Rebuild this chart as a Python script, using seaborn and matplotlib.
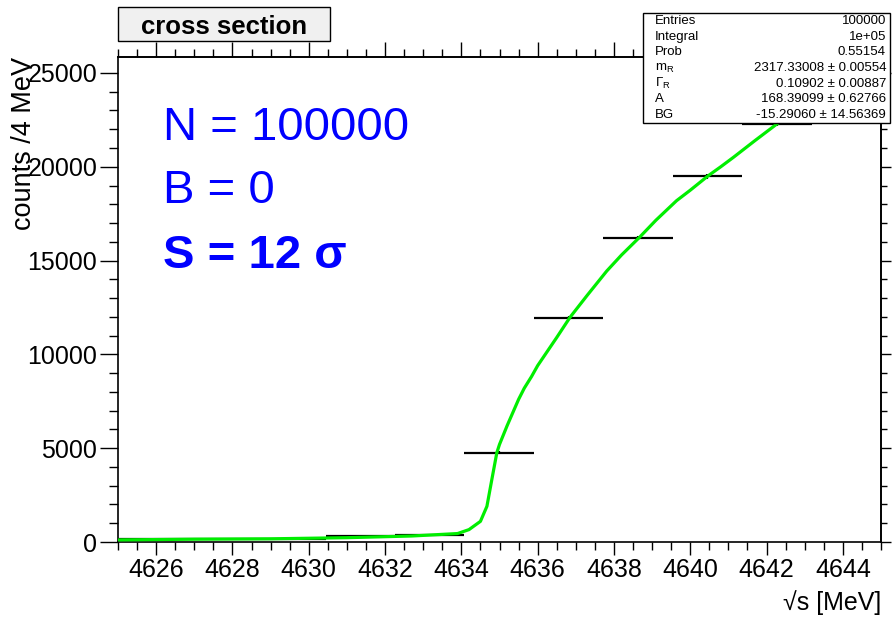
import matplotlib
matplotlib.use("Agg")
import matplotlib.pyplot as plt
from matplotlib.patches import Rectangle
from matplotlib.ticker import MultipleLocator
import pandas as pd
import seaborn as sns

# Histogram bins: centre energy [MeV], counts and their errors
bin_centers = [4625.89, 4627.71, 4629.53, 4631.35, 4633.17, 4634.99,
               4636.81, 4638.63, 4640.45, 4642.27, 4644.09]
bin_counts = [160, 150, 140, 320, 390, 4760, 11950, 16200, 19500, 22300, 24600]
count_errors = [60, 60, 60, 60, 60, 80, 110, 130, 140, 150, 160]
bin_half_width = 0.91

# Fitted line-shape curve
fit_energy = [4625.0, 4627.0, 4629.0, 4631.0, 4632.7, 4633.9, 4634.2, 4634.5,
              4634.67, 4634.8, 4634.93, 4635.0, 4635.1, 4635.2, 4635.35,
              4635.5, 4635.65, 4635.84, 4636.0, 4636.3, 4636.5, 4636.85,
              4637.3, 4637.81, 4638.2, 4638.68, 4639.1, 4639.64, 4640.0,
              4640.47, 4640.8, 4641.13, 4641.7, 4642.31, 4642.8, 4643.3,
              4644.1, 4645.0]
fit_counts = [110, 150, 170, 230, 320, 450, 660, 1100, 1900, 3340, 4760, 5200,
              5700, 6200, 6900, 7600, 8200, 8820, 9400, 10300, 10900, 11980,
              13150, 14440, 15300, 16260, 17150, 18190, 18750, 19520, 20000,
              20500, 21400, 22340, 23100, 23880, 24900, 26000]

x_ticks = [4626, 4628, 4630, 4632, 4634, 4636, 4638, 4640, 4642, 4644]
y_ticks = [0, 5000, 10000, 15000, 20000, 25000]

stats_labels = ["Entries", "Integral", "Prob", r"m$_{\mathrm{R}}$",
                r"Γ$_{\mathrm{R}}$", "A", "BG"]
stats_values = ["100000", "1e+05", "0.55154", "2317.33008 ± 0.00554",
                "0.10902 ± 0.00887", "168.39099 ± 0.62766",
                "-15.29060 ± 14.56369"]
info_lines = ["N = 100000", "B = 0", "S = 12 σ"]

sns.set_theme(style="white")
plt.rcParams["font.family"] = ["Liberation Sans", "DejaVu Sans"]
plt.rcParams["mathtext.fontset"] = "custom"
plt.rcParams["mathtext.rm"] = "Liberation Sans"
plt.rcParams["mathtext.it"] = "Liberation Sans:italic"

W, H = 892, 620
fig = plt.figure(figsize=(W / 100, H / 100), dpi=100)
fig.patch.set_facecolor("white")

x0, x1, y0, y1 = 118, 881, 57, 542
ax = fig.add_axes([x0 / W, (H - y1) / H, (x1 - x0) / W, (y1 - y0) / H])
ax.set_facecolor("white")

fit_df = pd.DataFrame({"energy": fit_energy, "counts": fit_counts})
sns.lineplot(data=fit_df, x="energy", y="counts", ax=ax, color="#00ee00",
             linewidth=2.3, zorder=3)
ax.errorbar(bin_centers, bin_counts, xerr=bin_half_width, yerr=count_errors,
            fmt="none", ecolor="black", elinewidth=1.6, capsize=0, zorder=2)

ax.set_xlim(4625, 4645)
ax.set_ylim(0, 25850)
ax.set_xticks(x_ticks)
ax.set_yticks(y_ticks)
ax.xaxis.set_minor_locator(MultipleLocator(0.5))
ax.yaxis.set_minor_locator(MultipleLocator(1000))
ax.set_xticklabels([str(v) for v in x_ticks])
ax.set_yticklabels([str(v) for v in y_ticks])

for s in ax.spines.values():
    s.set_color("black")
    s.set_linewidth(1.2)
    s.set_visible(True)

ax.tick_params(axis="both", which="both", direction="out", color="black",
               width=1.0, labelsize=18, labelcolor="black", pad=2)
ax.tick_params(axis="x", which="major", length=9.4, bottom=True, top=False)
ax.tick_params(axis="x", which="minor", length=5.8, bottom=True, top=False)
ax.tick_params(axis="y", which="major", length=13, left=True, right=False)
ax.tick_params(axis="y", which="minor", length=6.5, left=True, right=False)

top = ax.secondary_xaxis("top")
top.set_xticks(x_ticks)
top.xaxis.set_minor_locator(MultipleLocator(0.5))
top.tick_params(axis="x", which="major", direction="out", length=10.8,
                width=1.0, color="black", labeltop=False)
top.tick_params(axis="x", which="minor", direction="out", length=5.8,
                width=1.0, color="black")
right = ax.secondary_yaxis("right")
right.set_yticks(y_ticks)
right.yaxis.set_minor_locator(MultipleLocator(1000))
right.tick_params(axis="y", which="major", direction="out", length=7,
                  width=1.0, color="black", labelright=False)
right.tick_params(axis="y", which="minor", direction="out", length=4.3,
                  width=1.0, color="black")
for sec in (top, right):
    for s in sec.spines.values():
        s.set_linewidth(1.2)
        s.set_color("black")

ax.set_xlabel("√s [MeV]", fontsize=18, color="black", loc="right")
ax.xaxis.set_label_coords(1.0, -0.10)
ax.set_ylabel("counts /4 MeV", fontsize=19.5, color="black", loc="top")
ax.yaxis.set_label_coords(-0.106, 1.0)

# Title box
fig.add_artist(Rectangle((118 / W, (H - 41) / H), 212 / W, 34 / H,
                         transform=fig.transFigure, facecolor="#f0f0f0",
                         edgecolor="black", linewidth=1.0, zorder=5))
fig.text(224 / W, 1 - 26.5 / H, "cross section", fontsize=18.5,
         fontweight="bold", ha="center", va="center", color="black", zorder=6)

# Fit statistics box
bx0, bx1, by0, by1 = 643, 890, 13, 123
fig.add_artist(Rectangle((bx0 / W, (H - by1) / H), (bx1 - bx0) / W,
                         (by1 - by0) / H, transform=fig.transFigure,
                         facecolor="white", edgecolor="black", linewidth=1.0,
                         zorder=5))
pitch = (by1 - by0) / len(stats_labels)
for i, (lab, val) in enumerate(zip(stats_labels, stats_values)):
    yc = by0 + pitch * (i + 0.5)
    fig.text(655 / W, 1 - yc / H, lab, fontsize=9.5, ha="left", va="center",
             color="black", zorder=6)
    fig.text(886 / W, 1 - yc / H, val, fontsize=9.5, ha="right", va="center",
             color="black", zorder=6)

# Sample information
baselines = [140, 203, 268]
weights = ["normal", "normal", "bold"]
for line, yb, wt in zip(info_lines, baselines, weights):
    fig.text(163 / W, 1 - yb / H, line, fontsize=34, fontweight=wt,
             color="blue", ha="left", va="baseline", zorder=6)

fig.savefig("out.png", dpi=100, facecolor="white")
